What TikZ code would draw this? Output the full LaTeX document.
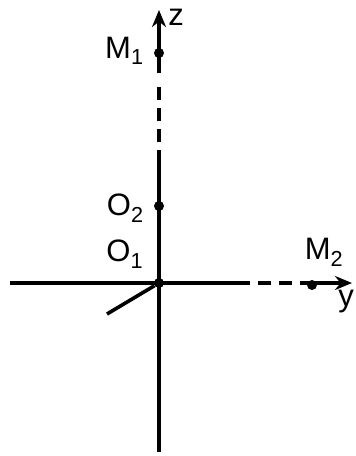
\documentclass[tikz,border=0pt]{standalone}
\usepackage{fontspec}
\setsansfont{Liberation Sans}
\usepackage{tikz}
\usetikzlibrary{positioning,arrows.meta}

\begin{document}
\begin{tikzpicture}[x=1pt, y=-1pt, >=Stealth,
    font=\sffamily\fontsize{31}{31}\selectfont,
    axis/.style={line width=3.6pt, draw=black},
    dsh/.style={axis, dash pattern=on 13pt off 8pt},
    arr/.style={axis, -{Stealth[length=17pt, width=14pt]}},
    pt/.style={circle, fill=black, inner sep=0pt, minimum size=10pt},
    lbl/.style={inner sep=1pt}]
    \useasboundingbox (0,0) rectangle (356,456);
    % points on the axes
    \node[pt] (O1) at (159,283) {};
    \node[pt] (O2) at (159,206) {};
    \node[pt] (M1) at (159,53) {};
    \node[pt] (M2) at (312,285) {};
    \coordinate (ztop) at (159,10);
    \coordinate (za) at (159,73);
    \coordinate (zb) at (159,87);
    \coordinate (zc) at (159,142);
    \coordinate (zd) at (159,150);
    \coordinate (zbot) at (159,452);
    \coordinate (yl) at (10,283);
    \coordinate (ya) at (250,283);
    \coordinate (yb) at (258,283);
    \coordinate (yc) at (294,283);
    \coordinate (yd) at (300,283);
    \coordinate (ytip) at (352,283);
    \coordinate (xend) at (107,314);
    % axes
    \draw[axis] (zbot) -- (zd);
    \draw[dsh] (zc) -- (zb);
    \draw[arr] (za) -- (ztop);
    \draw[axis] (yl) -- (ya);
    \draw[dsh] (yb) -- (yc);
    \draw[arr] (yd) -- (ytip);
    \draw[axis] (O1) -- (xend);
    % labels
    \node[lbl] (z) at (176,17) {z};
    \node[lbl] (y) at (346,302) {y};
    \node[lbl, left=9pt of M1, yshift=2pt] (lM1) {M\textsubscript{1}};
    \node[lbl, left=9pt of O2, yshift=-2pt] (lO2) {O\textsubscript{2}};
    \node[lbl, above left=10pt and 11pt of O1] (lO1) {O\textsubscript{1}};
    \node[lbl, above right=14pt and -12pt of M2] (lM2) {M\textsubscript{2}};
\end{tikzpicture}
\end{document}
